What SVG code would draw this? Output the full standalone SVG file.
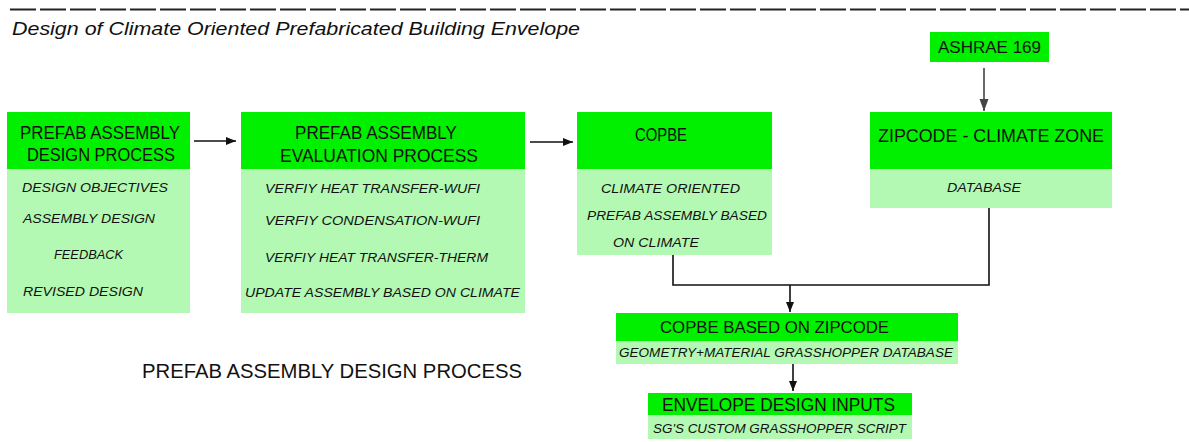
<svg xmlns="http://www.w3.org/2000/svg" width="1189" height="442" viewBox="0 0 1189 442">
  <style>
    .hd { fill: #00f000; }
    .bd { fill: #b3f9b3; }
    .ht { font-family: "Liberation Sans", Arial, sans-serif; font-size: 17.5px; fill: #111; }
    .hs { font-family: "Liberation Sans", Arial, sans-serif; font-size: 16.5px; fill: #111; }
    .it { font-family: "Liberation Sans", Arial, sans-serif; font-size: 13px; font-style: italic; fill: #111; }
    .title { font-family: "Liberation Sans", Arial, sans-serif; font-size: 19px; font-style: italic; fill: #111; }
    .cap { font-family: "Liberation Sans", Arial, sans-serif; font-size: 19.5px; fill: #111; }
    .ln { fill: none; stroke: #111; stroke-width: 1.6; }
    .lg { fill: none; stroke: #444; stroke-width: 1.6; }
  </style>
  <defs>
    <marker id="ah" markerUnits="userSpaceOnUse" markerWidth="10" markerHeight="10" refX="10" refY="4" orient="auto">
      <path d="M0,0 L10,4 L0,8 z" fill="#111"/>
    </marker>
    <marker id="ahg" markerUnits="userSpaceOnUse" markerWidth="12" markerHeight="10" refX="12" refY="4.5" orient="auto">
      <path d="M0,0 L12,4.5 L0,9 z" fill="#444"/>
    </marker>
  </defs>

  <rect width="1189" height="442" fill="#ffffff"/>

  <!-- heading rule and title -->
  <line x1="10" y1="9.5" x2="1189" y2="9.5" stroke="#222" stroke-width="2" stroke-dasharray="26 4"/>
  <text class="title" x="12" y="35" textLength="568" lengthAdjust="spacingAndGlyphs">Design of Climate Oriented Prefabricated Building Envelope</text>

  <!-- connectors -->
  <g id="connectors">
    <line class="ln" x1="194" y1="141" x2="236" y2="141" marker-end="url(#ah)"/>
    <line class="ln" x1="530" y1="142" x2="573" y2="142" marker-end="url(#ah)"/>
    <line class="lg" x1="984" y1="68" x2="984" y2="111" marker-end="url(#ahg)"/>
    <path class="ln" d="M673 255 V285 H989 V208"/>
    <line class="ln" x1="790" y1="285" x2="790" y2="312" marker-end="url(#ah)"/>
    <line class="ln" x1="793" y1="364" x2="793" y2="391" marker-end="url(#ah)"/>
  </g>

  <!-- design process -->
  <g id="design-process">
    <rect class="hd" x="7" y="112" width="183" height="57"/>
    <rect class="bd" x="7" y="169" width="183" height="144"/>
    <text class="ht" x="20" y="139" textLength="160" lengthAdjust="spacingAndGlyphs">PREFAB ASSEMBLY</text>
    <text class="ht" x="27" y="161" textLength="148" lengthAdjust="spacingAndGlyphs">DESIGN PROCESS</text>
    <text class="it" x="22" y="192" textLength="146" lengthAdjust="spacingAndGlyphs">DESIGN OBJECTIVES</text>
    <text class="it" x="23" y="223" textLength="132" lengthAdjust="spacingAndGlyphs">ASSEMBLY DESIGN</text>
    <text class="it" x="54" y="259" textLength="69" lengthAdjust="spacingAndGlyphs">FEEDBACK</text>
    <text class="it" x="23" y="296" textLength="120" lengthAdjust="spacingAndGlyphs">REVISED DESIGN</text>
  </g>

  <!-- evaluation process -->
  <g id="evaluation-process">
    <rect class="hd" x="241" y="112" width="284" height="57"/>
    <rect class="bd" x="241" y="169" width="284" height="144"/>
    <text class="ht" x="295" y="139" textLength="162" lengthAdjust="spacingAndGlyphs">PREFAB ASSEMBLY</text>
    <text class="ht" x="280" y="162" textLength="198" lengthAdjust="spacingAndGlyphs">EVALUATION PROCESS</text>
    <text class="it" x="265" y="193" textLength="215" lengthAdjust="spacingAndGlyphs">VERFIY HEAT TRANSFER-WUFI</text>
    <text class="it" x="265" y="225" textLength="215" lengthAdjust="spacingAndGlyphs">VERFIY CONDENSATION-WUFI</text>
    <text class="it" x="265" y="262" textLength="223" lengthAdjust="spacingAndGlyphs">VERFIY HEAT TRANSFER-THERM</text>
    <text class="it" x="245" y="297" textLength="275" lengthAdjust="spacingAndGlyphs">UPDATE ASSEMBLY BASED ON CLIMATE</text>
  </g>

  <!-- COPBE -->
  <g id="copbe">
    <rect class="hd" x="577" y="112" width="195" height="57"/>
    <rect class="bd" x="577" y="169" width="195" height="86"/>
    <text class="ht" x="635" y="141" textLength="52" lengthAdjust="spacingAndGlyphs">COPBE</text>
    <text class="it" x="601" y="193" textLength="139" lengthAdjust="spacingAndGlyphs">CLIMATE ORIENTED</text>
    <text class="it" x="587" y="220" textLength="180" lengthAdjust="spacingAndGlyphs">PREFAB ASSEMBLY BASED</text>
    <text class="it" x="613" y="247" textLength="86" lengthAdjust="spacingAndGlyphs">ON CLIMATE</text>
  </g>

  <!-- ASHRAE 169 -->
  <g id="ashrae">
    <rect class="hd" x="930" y="32" width="119" height="30"/>
    <text class="hs" x="938" y="53" textLength="103" lengthAdjust="spacingAndGlyphs">ASHRAE 169</text>
  </g>

  <!-- zipcode climate zone -->
  <g id="zipcode-climate-zone">
    <rect class="hd" x="870" y="112" width="242" height="57"/>
    <rect class="bd" x="870" y="169" width="242" height="39"/>
    <text class="ht" x="878" y="142" textLength="226" lengthAdjust="spacingAndGlyphs">ZIPCODE - CLIMATE ZONE</text>
    <text class="it" x="947" y="192" textLength="74" lengthAdjust="spacingAndGlyphs">DATABASE</text>
  </g>

  <!-- COPBE based on zipcode -->
  <g id="copbe-zipcode">
    <rect class="hd" x="616" y="313" width="342" height="28"/>
    <rect class="bd" x="616" y="341" width="342" height="23"/>
    <text class="hs" x="660" y="333" textLength="229" lengthAdjust="spacingAndGlyphs">COPBE BASED ON ZIPCODE</text>
    <text class="it" x="619" y="357" textLength="334" lengthAdjust="spacingAndGlyphs">GEOMETRY+MATERIAL GRASSHOPPER DATABASE</text>
  </g>

  <!-- envelope design inputs -->
  <g id="envelope-inputs">
    <rect class="hd" x="648" y="393" width="264" height="22"/>
    <rect class="bd" x="648" y="415" width="264" height="24"/>
    <text class="ht" x="662" y="411" textLength="233" lengthAdjust="spacingAndGlyphs">ENVELOPE DESIGN INPUTS</text>
    <text class="it" x="653" y="433" textLength="253" lengthAdjust="spacingAndGlyphs">SG'S CUSTOM GRASSHOPPER SCRIPT</text>
  </g>

  <!-- caption -->
  <text class="cap" x="142" y="378" textLength="380" lengthAdjust="spacingAndGlyphs">PREFAB ASSEMBLY DESIGN PROCESS</text>
</svg>
